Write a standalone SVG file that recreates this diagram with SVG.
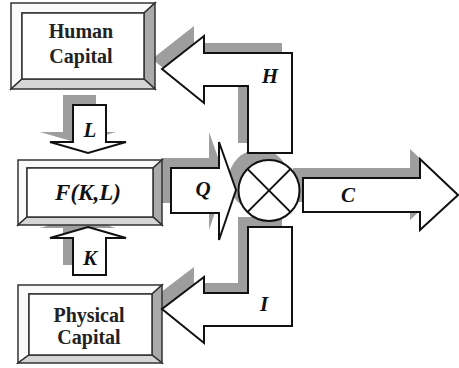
<svg xmlns="http://www.w3.org/2000/svg" width="459" height="368" viewBox="0 0 459 368">
<style>
.sh{fill:#9e9e9e;stroke:none}
.ar{fill:#fff;stroke:#111;stroke-width:2;stroke-linejoin:miter}
.bo{stroke:#333;stroke-width:1.5;stroke-linejoin:miter}
.lt{fill:#fafafa}
.rt{fill:#aaa}
.bt{fill:#d6d6d6}
.fc{fill:#fff}
.bx{font-family:"Liberation Serif",serif;font-weight:bold;font-size:20px;fill:#222;text-anchor:middle}
.lb{font-family:"Liberation Serif",serif;font-weight:bold;font-style:italic;font-size:21px;fill:#111;text-anchor:middle}
</style>
<rect width="459" height="368" fill="#fff"/>
<g id="shadows">
<polygon class="sh" points="152,59 194,26 194,43 282,43 282,143 238,143 238,76 194,76 194,93"/>
<polygon class="sh" points="63,95 96,95 96,132 116,132 78,143 40,132 63,132"/>
<polygon class="sh" points="78,217 116,228 96,228 96,265 63,265 63,228 40,228"/>
<polygon class="sh" points="161,158 209,158 209,132 226,180 209,230 209,203 161,203"/>
<circle class="sh" cx="259" cy="180" r="30.5"/>
<polygon class="sh" points="293,168 410,168 410,149 448,185 410,220 410,202 293,202"/>
<polygon class="sh" points="238,217 282,217 282,316 194,316 194,333 152,299 194,267 194,283 238,283"/>
</g>
<g id="human-capital">
<polygon class="bo lt" points="11,3 155,3 144,13 22,13 22,79 11,89"/>
<polygon class="bo rt" points="155,3 155,89 144,79 144,13"/>
<polygon class="bo bt" points="11,89 155,89 144,79 22,79"/>
<rect class="bo fc" x="22" y="13" width="122" height="66"/>
<text class="bx" x="81" y="38">Human</text>
<text class="bx" x="81" y="63">Capital</text>
</g>
<g id="production">
<polygon class="bo lt" points="18,160 162,160 153,168 27,168 27,217 18,225"/>
<polygon class="bo rt" points="162,160 162,225 153,217 153,168"/>
<polygon class="bo bt" points="18,225 162,225 153,217 27,217"/>
<rect class="bo fc" x="27" y="168" width="126" height="49"/>
<text class="lb" x="88" y="200" style="font-size:23px">F(K,L)</text>
</g>
<g id="physical-capital">
<polygon class="bo lt" points="18,285 162,285 152,294 29,294 29,355 18,363"/>
<polygon class="bo rt" points="162,285 162,363 152,355 152,294"/>
<polygon class="bo bt" points="18,363 162,363 152,355 29,355"/>
<rect class="bo fc" x="29" y="294" width="123" height="61"/>
<text class="bx" x="89" y="322">Physical</text>
<text class="bx" x="89" y="344">Capital</text>
</g>
<g id="connectors">
<polygon class="ar" points="162,69 204,36 204,53 292,53 292,153 248,153 248,86 204,86 204,103"/>
<polygon class="ar" points="73,105 106,105 106,142 126,142 88,153 50,142 73,142"/>
<polygon class="ar" points="88,227 126,238 106,238 106,275 73,275 73,238 50,238"/>
<polygon class="ar" points="171,168 219,168 219,142 236,190 219,240 219,213 171,213"/>
<polygon class="ar" points="303,178 420,178 420,159 458,195 420,230 420,212 303,212"/>
<polygon class="ar" points="248,227 292,227 292,326 204,326 204,343 162,309 204,277 204,293 248,293"/>
</g>
<g id="combine">
<circle cx="269" cy="190.5" r="30.5" fill="#fff" stroke="#111" stroke-width="2"/>
<line x1="247.4" y1="168.9" x2="290.6" y2="212.1" stroke="#111" stroke-width="2"/>
<line x1="290.6" y1="168.9" x2="247.4" y2="212.1" stroke="#111" stroke-width="2"/>
</g>
<g id="labels">
<text class="lb" x="90" y="137">L</text>
<text class="lb" x="90" y="265">K</text>
<text class="lb" x="203" y="196">Q</text>
<text class="lb" x="348" y="202">C</text>
<text class="lb" x="270" y="83">H</text>
<text class="lb" x="264" y="311">I</text>
</g>
</svg>
